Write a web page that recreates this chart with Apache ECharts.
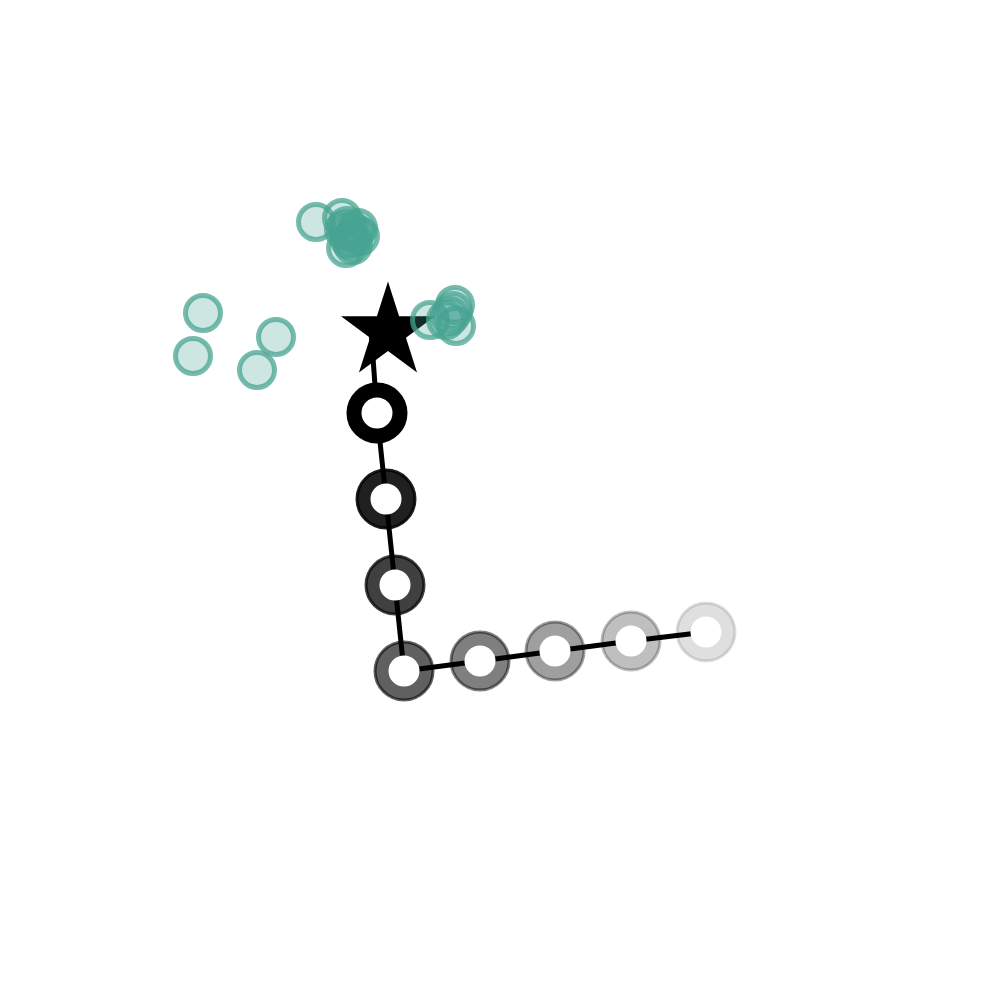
<!DOCTYPE html>
<html>
<head>
<meta charset="utf-8">
<script src="https://cdn.jsdelivr.net/npm/echarts@6/dist/echarts.min.js"></script>
<style>
  html, body { margin: 0; padding: 0; background: #fff; }
  #main { width: 1000px; height: 1000px; }
</style>
</head>
<body>
<div id="main"></div>
<script>
// scattered samples (teal)
var sampleX = [20.3, 19.3, 27.6, 25.7, 31.6, 34.2, 34.7, 35.5, 36.0, 35.0, 34.6, 35.3, 35.8, 34.9, 35.2, 34.4, 43.0, 45.5, 45.6, 45.0, 44.6, 45.3];
var sampleY = [68.7, 64.4, 66.3, 63.0, 77.8, 78.2, 77.4, 76.7, 76.4, 76.0, 75.2, 75.5, 77.2, 76.8, 76.2, 77.0, 68.0, 69.5, 67.4, 68.4, 68.0, 68.9];

// trajectory (rings), start point hidden under the star
var startX = 37.1, startY = 67.0;
var pathX = [37.7, 38.6, 39.5, 40.4, 48.0, 55.5, 63.1, 70.6];
var pathY = [58.7, 50.1, 41.5, 32.9, 33.9, 34.9, 35.9, 36.8];

// current position (star)
var starX = [38.8];
var starY = [67.3];

var starPath = 'path://M0,-1L0.2245,-0.309L0.9511,-0.309L0.3633,0.118L0.5878,0.809L0,0.382L-0.5878,0.809L-0.3633,0.118L-0.9511,-0.309L-0.2245,-0.309Z';

var n = pathX.length;
var ringData = pathX.map(function (x, i) {
  var a = 1 - i / n;
  return {
    value: [x, pathY[i]],
    itemStyle: { color: 'rgba(0,0,0,' + a + ')', borderColor: 'rgba(0,0,0,' + a + ')' }
  };
});
var holeData = pathX.map(function (x, i) { return [x, pathY[i]]; });
var lineData = [[startX, startY]].concat(holeData);
var sampleData = sampleX.map(function (x, i) { return [x, sampleY[i]]; });
var starData = starX.map(function (x, i) { return [x, starY[i]]; });

var option = {
  backgroundColor: '#fff',
  animation: false,
  grid: { left: 0, right: 0, top: 0, bottom: 0 },
  xAxis: { type: 'value', min: 0, max: 100, show: false },
  yAxis: { type: 'value', min: 0, max: 100, show: false },
  series: [
    {
      type: 'scatter',
      z: 1,
      symbol: 'circle',
      symbolSize: 58,
      itemStyle: { borderWidth: 3, opacity: 1 },
      data: ringData
    },
    {
      type: 'line',
      z: 2,
      symbol: 'none',
      lineStyle: { color: '#000', width: 5 },
      data: lineData
    },
    {
      type: 'scatter',
      z: 3,
      symbol: 'circle',
      symbolSize: 31,
      itemStyle: { color: '#fff', opacity: 1 },
      data: holeData
    },
    {
      type: 'scatter',
      z: 4,
      symbol: starPath,
      symbolSize: [94, 91],
      itemStyle: { color: '#000', opacity: 1 },
      data: starData
    },
    {
      type: 'scatter',
      z: 5,
      symbol: 'circle',
      symbolSize: 35,
      itemStyle: {
        color: 'rgba(72,164,146,0.27)',
        borderColor: 'rgba(72,164,146,0.75)',
        borderWidth: 5,
        opacity: 1
      },
      data: sampleData
    }
  ]
};

var myChart = echarts.init(document.getElementById('main'));
myChart.setOption(option);
</script>
</body>
</html>
